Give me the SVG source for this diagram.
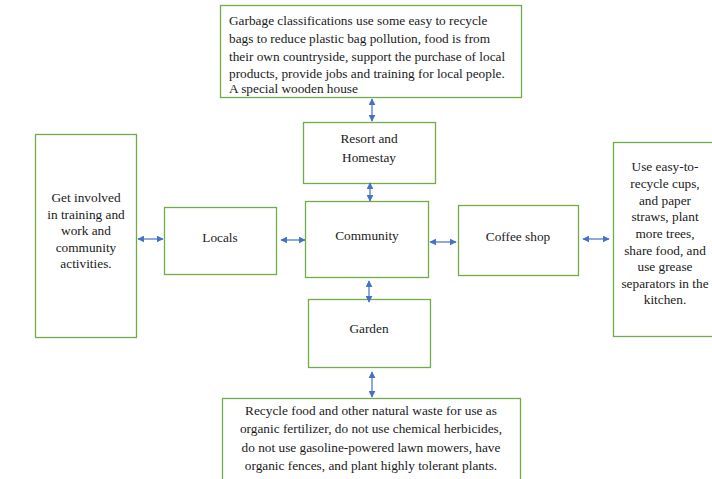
<svg xmlns="http://www.w3.org/2000/svg" width="712" height="479" viewBox="0 0 712 479">
  <defs>
    <marker id="ah" viewBox="0 0 10 10" refX="9" refY="5" markerWidth="7" markerHeight="7" markerUnits="userSpaceOnUse" orient="auto-start-reverse">
      <path d="M0,0 L10,5 L0,10 z" fill="#4472C4"/>
    </marker>
    <style>
      .box { fill: #ffffff; stroke: #70AD47; stroke-width: 1.3; }
      .lbl { font-family: 'Liberation Serif', 'Times New Roman', serif; font-size: 13.3px; fill: #1a1a1a; }
      .mid { text-anchor: middle; }
      .con { stroke: #4472C4; stroke-width: 1.2; fill: none; marker-start: url(#ah); marker-end: url(#ah); }
    </style>
  </defs>
  <rect width="712" height="479" fill="#ffffff"/>

  <g id="top-note">
    <rect class="box" x="220.5" y="5.5" width="301" height="92"/>
    <text class="lbl" x="229" y="25">Garbage classifications use some easy to recycle</text>
    <text class="lbl" x="229" y="43">bags to reduce plastic bag pollution, food is from</text>
    <text class="lbl" x="229" y="61">their own countryside, support the purchase of local</text>
    <text class="lbl" x="229" y="78">products, provide jobs and training for local people.</text>
    <text class="lbl" x="229" y="93">A special wooden house</text>
  </g>

  <g id="resort">
    <rect class="box" x="303.5" y="122.5" width="132" height="61"/>
    <text class="lbl mid" x="369" y="143">Resort and</text>
    <text class="lbl mid" x="369" y="162">Homestay</text>
  </g>

  <g id="community">
    <rect class="box" x="305.5" y="201.5" width="123" height="76"/>
    <text class="lbl mid" x="367" y="240">Community</text>
  </g>

  <g id="garden">
    <rect class="box" x="308.5" y="299.5" width="122" height="68"/>
    <text class="lbl mid" x="369" y="333">Garden</text>
  </g>

  <g id="bottom-note">
    <rect class="box" x="222.5" y="398.5" width="298" height="90"/>
    <text class="lbl mid" x="371" y="415">Recycle food and other natural waste for use as</text>
    <text class="lbl mid" x="371" y="433">organic fertilizer, do not use chemical herbicides,</text>
    <text class="lbl mid" x="371" y="452">do not use gasoline-powered lawn mowers, have</text>
    <text class="lbl mid" x="371" y="470">organic fences, and plant highly tolerant plants.</text>
  </g>

  <g id="left-note">
    <rect class="box" x="35.5" y="134.5" width="101" height="203"/>
    <text class="lbl mid" x="86" y="202">Get involved</text>
    <text class="lbl mid" x="86" y="219">in training and</text>
    <text class="lbl mid" x="86" y="235">work and</text>
    <text class="lbl mid" x="86" y="252">community</text>
    <text class="lbl mid" x="86" y="268">activities.</text>
  </g>

  <g id="locals">
    <rect class="box" x="164.5" y="207.5" width="112" height="67"/>
    <text class="lbl mid" x="220" y="242">Locals</text>
  </g>

  <g id="coffee-shop">
    <rect class="box" x="458.5" y="205.5" width="120" height="70"/>
    <text class="lbl mid" x="518" y="241">Coffee shop</text>
  </g>

  <g id="right-note">
    <rect class="box" x="613.5" y="142.5" width="110" height="194"/>
    <text class="lbl mid" x="665" y="171">Use easy-to-</text>
    <text class="lbl mid" x="665" y="188">recycle cups,</text>
    <text class="lbl mid" x="665" y="205">and paper</text>
    <text class="lbl mid" x="665" y="221">straws, plant</text>
    <text class="lbl mid" x="665" y="238">more trees,</text>
    <text class="lbl mid" x="665" y="255">share food, and</text>
    <text class="lbl mid" x="665" y="271">use grease</text>
    <text class="lbl mid" x="665" y="288">separators in the</text>
    <text class="lbl mid" x="665" y="304">kitchen.</text>
  </g>

  <g id="connectors">
    <line class="con" x1="372" y1="99" x2="372" y2="121"/>
    <line class="con" x1="370" y1="183" x2="370" y2="201"/>
    <line class="con" x1="369" y1="281" x2="369" y2="302"/>
    <line class="con" x1="372" y1="372" x2="372" y2="397"/>
    <line class="con" x1="138" y1="239" x2="163" y2="239"/>
    <line class="con" x1="281" y1="240" x2="305" y2="240"/>
    <line class="con" x1="430" y1="242" x2="456" y2="242"/>
    <line class="con" x1="583" y1="239" x2="609" y2="239"/>
  </g>
</svg>
